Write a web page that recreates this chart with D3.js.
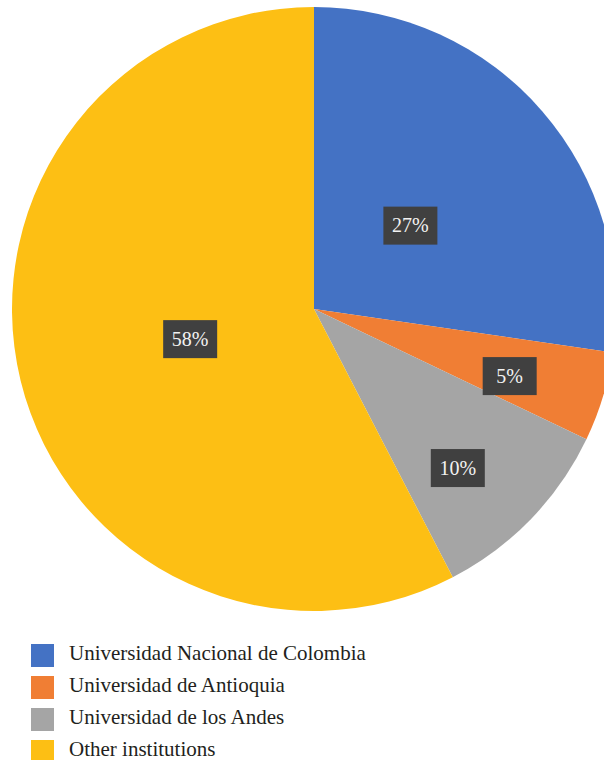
<!DOCTYPE html>
<html>
<head>
<meta charset="utf-8">
<script src="https://cdn.jsdelivr.net/npm/d3@7"></script>
<style>
  body { margin: 0; background: #fff; }
  svg { display: block; font-family: "Liberation Serif", "DejaVu Serif", serif; }
</style>
</head>
<body>
<div id="main"></div>
<script>
const ctx = {
    SVG_W: 604,
    SVG_H: 760,
    CX: 314,
    CY: 309,
    R: 302,
};

// shares (percent)
const categories = ["Universidad Nacional de Colombia", "Universidad de Antioquia", "Universidad de los Andes", "Other institutions"];
const shares = [27.3, 4.8, 10.3, 57.6];
const colors = ["#4472c4", "#f07e34", "#a5a5a5", "#fdbf14"];

function drawPie(svgEl) {
    let data = categories.map(function (c, i) { return {name: c, value: shares[i], color: colors[i]}; });
    let total = d3.sum(shares);

    let pie = d3.pie().sort(null).value(function (d) { return d.value; });
    let arc = d3.arc().innerRadius(0).outerRadius(ctx.R);

    let g = svgEl.append("g")
        .attr("transform", "translate(" + ctx.CX + "," + ctx.CY + ")");

    let arcs = pie(data);

    g.selectAll("path")
        .data(arcs)
        .enter()
        .append("path")
        .attr("d", arc)
        .attr("fill", function (d) { return d.data.color; });

    // labels: big slices near middle, small ones pushed out (like excel best fit)
    let labels = g.selectAll("g.lbl")
        .data(arcs)
        .enter()
        .append("g")
        .attr("class", "lbl")
        .attr("transform", function (d) {
            let frac = d.data.value / total;
            let r = 0.422 * ctx.R;
            let a = (d.startAngle + d.endAngle) / 2;
            if (frac < 0.08) { r = 0.685 * ctx.R; a += 0.035; }
            else if (frac < 0.15) { r = 0.71 * ctx.R; a += 0.066; }
            return "translate(" + (Math.sin(a) * r) + "," + (-Math.cos(a) * r) + ")";
        });

    labels.append("rect")
        .attr("x", -27)
        .attr("y", -19)
        .attr("width", 54)
        .attr("height", 38)
        .attr("fill", "#404040");

    labels.append("text")
        .attr("text-anchor", "middle")
        .attr("y", 6.5)
        .attr("fill", "#f2f2f2")
        .attr("font-size", 20)
        .text(function (d) { return Math.round(d.data.value / total * 100) + "%"; });
}

function drawLegend(svgEl) {
    let y = d3.scaleBand()
        .domain(categories)
        .range([644, 644 + 32 * categories.length]);

    let leg = svgEl.append("g").attr("class", "legend")
        .selectAll("g")
        .data(categories)
        .enter()
        .append("g")
        .attr("transform", function (d) { return "translate(31," + y(d) + ")"; });

    leg.append("rect")
        .attr("width", 23)
        .attr("height", 23)
        .attr("fill", function (d, i) { return colors[i]; });

    leg.append("text")
        .attr("x", 38)
        .attr("y", 16)
        .attr("font-size", 21)
        .attr("fill", "#231f20")
        .text(function (d) { return d; });
}

function createViz() {
    let svgEl = d3.select("#main").append("svg");
    svgEl.attr("width", ctx.SVG_W);
    svgEl.attr("height", ctx.SVG_H);
    drawPie(svgEl);
    drawLegend(svgEl);
}

createViz();
</script>
</body>
</html>
